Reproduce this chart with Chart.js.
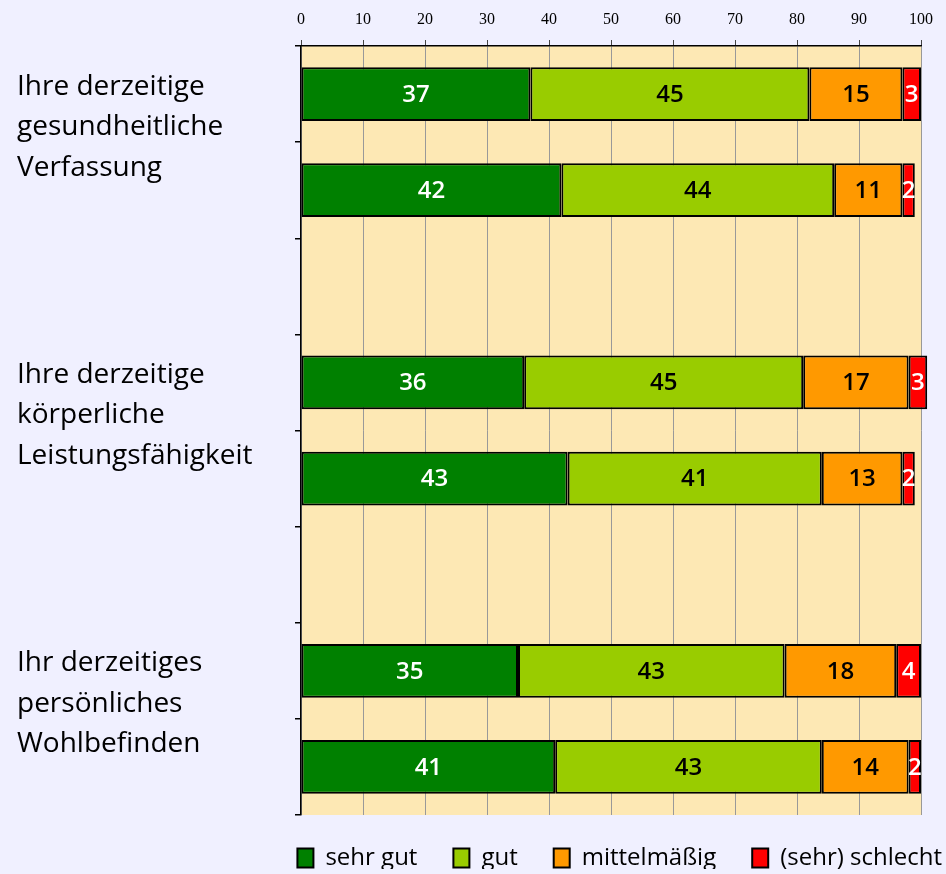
<!DOCTYPE html>
<html lang="de">
<head>
<meta charset="utf-8">
<title>Gesundheit</title>
<script src="https://cdn.jsdelivr.net/npm/chart.js@4/dist/chart.umd.min.js"></script>
<style>
  html, body { margin: 0; padding: 0; background: #F0F0FF; }
  #wrap { width: 946px; height: 874px; position: relative; }
</style>
</head>
<body>
<div id="wrap"><canvas id="chart"></canvas></div>
<script>
// rows of the chart, empty rows separate the three groups
const rows = ['v1', 'v2', '', 'k1', 'k2', '', 'w1', 'w2'];
const groupLabels = [
    ['Ihre derzeitige', 'gesundheitliche', 'Verfassung'],
    ['Ihre derzeitige', 'körperliche', 'Leistungsfähigkeit'],
    ['Ihr derzeitiges', 'persönliches', 'Wohlbefinden']
];
const groupRows = [[0, 1], [3, 4], [6, 7]];

const seriesNames = ['sehr gut', 'gut', 'mittelmäßig', '(sehr) schlecht'];
const sehrGut = [37, 42, null, 36, 43, null, 35, 41];
const gut = [45, 44, null, 45, 41, null, 43, 43];
const mittel = [15, 11, null, 17, 13, null, 18, 14];
const schlecht = [3, 2, null, 3, 2, null, 4, 2];

const xTicks = [0, 10, 20, 30, 40, 50, 60, 70, 80, 90, 100];

const colors = ['#008000', '#99CC00', '#FF9900', '#FF0000'];
const labelColors = ['#FFFFFF', '#000000', '#000000', '#FFFFFF'];

const textFont = '"Open Sans", "DejaVu Sans", sans-serif';

// beige plot background
const plotBg = {
    id: 'plotBg',
    beforeDraw(chart) {
        const { ctx, chartArea: a } = chart;
        ctx.save();
        ctx.fillStyle = '#FDE8B4';
        ctx.fillRect(a.left, a.top, a.right - a.left, a.bottom - a.top);
        ctx.restore();
    }
};

// numbers inside the bar segments
const barValues = {
    id: 'barValues',
    afterDatasetsDraw(chart) {
        const ctx = chart.ctx;
        ctx.save();
        ctx.font = '600 24px ' + textFont;
        ctx.textAlign = 'center';
        ctx.textBaseline = 'middle';
        chart.data.datasets.forEach((ds, i) => {
            const meta = chart.getDatasetMeta(i);
            meta.data.forEach((bar, j) => {
                const v = ds.data[j];
                if (v == null) return;
                const p = bar.getProps(['x', 'y', 'base'], true);
                ctx.fillStyle = labelColors[i];
                ctx.fillText(String(v), (p.x + p.base) / 2, p.y + 1);
            });
        });
        ctx.restore();
    }
};

// group captions on the left, centred between their two bars
const groupCaptions = {
    id: 'groupCaptions',
    afterDraw(chart) {
        const ctx = chart.ctx;
        const y = chart.scales.y;
        ctx.save();
        ctx.font = '28px ' + textFont;
        ctx.fillStyle = '#000';
        ctx.textAlign = 'left';
        ctx.textBaseline = 'middle';
        groupLabels.forEach((lines, g) => {
            const mid = (y.getPixelForValue(groupRows[g][0]) + y.getPixelForValue(groupRows[g][1])) / 2 - 15;
            lines.forEach((t, k) => {
                ctx.fillText(t, 17, mid + (k - 1) * 40.5);
            });
        });
        ctx.restore();
    }
};

// move the legend to the position it has in the picture
const legendPlace = {
    id: 'legendPlace',
    afterLayout(chart) {
        const lg = chart.legend;
        if (!lg) return;
        lg.top -= 5;
        lg.bottom -= 5;
        lg.right = chart.width + 32;
    }
};

const datasets = [sehrGut, gut, mittel, schlecht].map((data, i) => ({
    label: seriesNames[i],
    data: data,
    backgroundColor: colors[i],
    borderColor: '#000',
    borderWidth: 2,
    borderSkipped: false,
    categoryPercentage: 1,
    barPercentage: 0.56,
    clip: false
}));

new Chart(document.getElementById('chart'), {
    type: 'bar',
    data: { labels: rows, datasets: datasets },
    options: {
        indexAxis: 'y',
        responsive: true,
        maintainAspectRatio: false,
        devicePixelRatio: 1,
        animation: false,
        layout: { padding: { left: 0, right: 25, top: 0, bottom: 0 } },
        plugins: {
            legend: {
                position: 'bottom',
                align: 'end',
                maxHeight: 59,
                labels: {
                    color: '#000',
                    font: { family: textFont, size: 24 },
                    boxWidth: 16,
                    boxHeight: 19,
                    padding: 36
                }
            },
            tooltip: { enabled: false }
        },
        scales: {
            x: {
                position: 'top',
                stacked: true,
                min: 0,
                max: 100,
                afterBuildTicks(scale) {
                    scale.ticks = xTicks.map(v => ({ value: v }));
                },
                afterFit(scale) { scale.height = 46; },
                ticks: {
                    color: '#000',
                    padding: 11,
                    font: { family: '"Liberation Serif", "DejaVu Serif", serif', size: 16 }
                },
                grid: {
                    color: '#999',
                    lineWidth: 1,
                    tickLength: 6,
                    tickColor: '#444'
                },
                border: { color: '#000', width: 1.5 }
            },
            y: {
                stacked: true,
                afterFit(scale) { scale.width = 301; },
                ticks: { display: false },
                grid: {
                    offset: true,
                    drawOnChartArea: false,
                    drawTicks: true,
                    tickLength: 6,
                    color: '#000',
                    lineWidth: 1.5
                },
                border: { color: '#000', width: 1.5 }
            }
        }
    },
    plugins: [plotBg, barValues, groupCaptions, legendPlace]
});
</script>
</body>
</html>
